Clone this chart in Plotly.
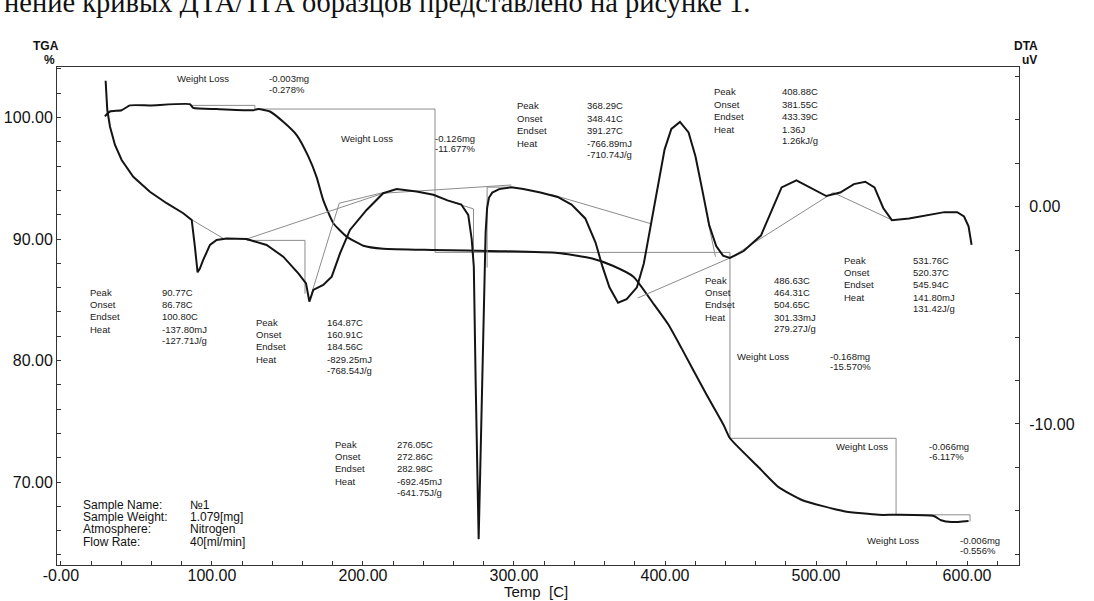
import plotly.graph_objects as go

# ---------------- data ----------------
tga_temp = [29.1, 32.5, 40.2, 45.7, 59, 85.4, 87.6, 103, 127.4, 130.7, 138.4, 147.2, 156.1,
            163.8, 169.3, 173.7, 180.4, 189.2, 200.2, 213.4, 246.6, 290.7, 329, 351.8, 365.4,
            379.1, 392.8, 402, 411, 427, 438.8, 443, 461.3, 475, 491, 518.5, 541.5, 553, 578,
            582.8, 589.7, 601]
tga_weight = [100.1, 100.5, 100.6, 101.0, 101.0, 101.1, 100.8, 100.7, 100.6, 100.7, 100.5, 99.65,
              98.56, 96.8, 95.1, 93.2, 91.3, 90.2, 89.45, 89.2, 89.1, 89.0, 88.85, 88.4, 87.8,
              86.9, 84.6, 83.0, 81.0, 77.3, 74.7, 73.6, 71.3, 69.6, 68.5, 67.6, 67.3, 67.3, 67.2,
              66.85, 66.7, 66.8]

dta_temp = [29.6, 30.7, 32.5, 35.8, 40.2, 47.9, 58.9, 70, 81, 86.6, 88.7, 90.5, 92.0, 94.2, 98.7,
            103.1, 109.7, 122.9, 136.2, 147.2, 157.2, 162.3, 164.5, 167.1, 173.7, 179.3, 184.8,
            191.4, 202.4, 213.4, 222.3, 235.5, 246.6, 256, 265.1, 269.7, 272, 273.4, 274.6, 275.7,
            276.6, 277.6, 279.0, 280.3, 281.2, 282.2, 283.4, 285.6, 290.2, 298.2, 306.2, 317.5,
            328.9, 338.1, 347.2, 354, 358.6, 363.2, 368.9, 374.6, 381.4, 386, 390.5, 395.1, 399.7,
            404.2, 409.9, 415.6, 420.2, 424.8, 429.3, 433.9, 438.4, 443, 452.1, 463.5, 470.3,
            477.2, 487, 495.4, 506.8, 516, 525.1, 532.6, 538.7, 544.5, 550.2, 561.6, 575.2, 585,
            593.5, 598, 601, 603]
dta_uv = [5.80, 4.45, 3.68, 2.84, 2.15, 1.38, 0.69, 0.16, -0.30, -0.61, -1.84, -3.02, -2.85, -2.45,
          -1.76, -1.53, -1.46, -1.49, -1.76, -2.30, -3.07, -3.53, -4.37, -3.83, -3.60, -3.22, -2.15,
          -1.07, -0.15, 0.62, 0.81, 0.70, 0.55, 0.29, 0.10, -0.38, -1.49, -2.76, -8.0, -12.8,
          -15.3, -12.3, -7.5, -3.5, -1.2, -0.06, 0.41, 0.65, 0.81, 0.89, 0.81, 0.65, 0.45, 0.10,
          -0.54, -1.65, -2.76, -3.71, -4.42, -4.26, -3.71, -2.60, -0.86, 1.04, 2.63, 3.58, 3.90,
          3.42, 2.31, 0.73, -0.86, -1.81, -2.25, -2.36, -2.04, -1.33, -0.22, 0.89, 1.21, 0.89,
          0.49, 0.65, 1.04, 1.15, 0.89, -0.06, -0.62, -0.54, -0.38, -0.25, -0.25, -0.45, -0.9,
          -1.76]

# weight-loss step construction (TGA analysis)
step_temp = [85.4, 128.4, 128.4, 247.7, 247.7, 443, 443, 553, 553, 602, 602]
step_weight = [101.0, 101.0, 100.7, 100.7, 88.9, 88.9, 73.6, 73.6, 67.3, 67.3, 66.75]

# DTA peak construction lines (baselines / tangents)
base_temp = [83.2, 107.5, None, 122.9, 161.6, 161.6, None, 166, 184.3, 213.4, None,
             122.9, 213.4, 298.2, None, 255, 273.2, 273.2, None, 282.2, 282.2, 298.2, None,
             324.4, 390.5, None, 382, 443, 511.4, 549, None, 428, 433.4]
base_uv = [-0.46, -1.46, None, -1.55, -1.55, -4.0, None, -3.99, 0.16, 0.65, None,
           -1.49, 0.62, 1.0, None, 0.3, -0.1, -3.0, None, -2.8, 0.9, 0.9, None,
           0.57, -0.78, None, -4.2, -2.36, 0.65, -0.57, None, -0.5, -2.3]

x_tick_vals = [0, 100, 200, 300, 400, 500, 600]
x_tick_text = ["-0.00", "100.00", "200.00", "300.00", "400.00", "500.00", "600.00"]
tga_tick_vals = [70, 80, 90, 100]
tga_tick_text = ["70.00", "80.00", "90.00", "100.00"]
dta_tick_vals = [-10, 0]
dta_tick_text = ["-10.00", "0.00"]

peak_labels = ["Peak", "Onset", "Endset", "Heat"]
peak_blocks = [
    ["90.77C", "86.78C", "100.80C", "-137.80mJ", "-127.71J/g"],
    ["164.87C", "160.91C", "184.56C", "-829.25mJ", "-768.54J/g"],
    ["276.05C", "272.86C", "282.98C", "-692.45mJ", "-641.75J/g"],
    ["368.29C", "348.41C", "391.27C", "-766.89mJ", "-710.74J/g"],
    ["408.88C", "381.55C", "433.39C", "1.36J", "1.26kJ/g"],
    ["486.63C", "464.31C", "504.65C", "301.33mJ", "279.27J/g"],
    ["531.76C", "520.37C", "545.94C", "141.80mJ", "131.42J/g"],
]
weight_loss_blocks = [
    ["-0.003mg", "-0.278%"],
    ["-0.126mg", "-11.677%"],
    ["-0.168mg", "-15.570%"],
    ["-0.066mg", "-6.117%"],
    ["-0.006mg", "-0.556%"],
]
sample_labels = ["Sample Name:", "Sample Weight:", "Atmosphere:", "Flow Rate:"]
sample_values = ["№1", "1.079[mg]", "Nitrogen", "40[ml/min]"]
header_text = "нение кривых ДТА/ТГА образцов представлено на рисунке 1."

# ---------------- layout geometry ----------------
W, H = 1094, 601
L, R, T, B = 57, 1019, 67, 565


def px(xp, yp):
    return (xp - L) / (R - L), (B - yp) / (B - T)


fig = go.Figure()
thin = dict(color="#8c8c8c", width=1)
fig.add_trace(go.Scatter(x=step_temp, y=step_weight, mode="lines", line=thin,
                         yaxis="y", hoverinfo="skip", showlegend=False))
fig.add_trace(go.Scatter(x=base_temp, y=base_uv, mode="lines", line=thin,
                         yaxis="y2", hoverinfo="skip", showlegend=False, connectgaps=False))
fig.add_trace(go.Scatter(x=tga_temp, y=tga_weight, mode="lines",
                         line=dict(color="#141414", width=2, shape="spline", smoothing=0.5),
                         yaxis="y", showlegend=False))
fig.add_trace(go.Scatter(x=dta_temp, y=dta_uv, mode="lines",
                         line=dict(color="#141414", width=2),
                         yaxis="y2", showlegend=False))

FAM = "Liberation Sans, Arial, sans-serif"
SMALL = dict(family=FAM, size=9.5, color="#1a1a1a")
ann = []


def text(t, xp, yp, font=SMALL, xanchor="left"):
    xx, yy = px(xp, yp)
    ann.append(dict(text=t, x=xx, y=yy, xref="paper", yref="paper", showarrow=False,
                    xanchor=xanchor, yanchor="middle", font=font))


# peak blocks: (label x, value x, first row y)
block_pos = [(88, 160, 292), (254, 325, 322), (333, 395, 444), (514.5, 585, 106),
             (712, 780, 92), (702.5, 771.5, 280), (841.7, 910.5, 260)]
for (lx, vx, y0), vals in zip(block_pos, peak_blocks):
    for i, lab in enumerate(peak_labels):
        text(lab, lx, y0 + i * 12.4)
    for i, v in enumerate(vals):
        text(v, vx, y0 + i * 12.4 if i < 4 else y0 + 3 * 12.4 + 11.5)

wl_pos = [(175, 267, 79), (339, 433, 138), (734.7, 827.8, 356), (834, 926.5, 446), (865, 958, 540)]
for (lx, vx, y0), vals in zip(wl_pos, weight_loss_blocks):
    text("Weight Loss", lx, y0)
    text(vals[0], vx, y0)
    text(vals[1], vx, y0 + 10.5)

BIG = dict(family=FAM, size=12, color="#111")
for i, (lab, v) in enumerate(zip(sample_labels, sample_values)):
    text(lab, 81, 504.6 + i * 12.4, BIG)
    text(v, 187.7, 504.6 + i * 12.4, BIG)

TITLE = dict(family=FAM, size=12, color="#111")
text("<b>TGA</b>", 46, 46, TITLE, "center")
text("<b>%</b>", 49.5, 59.5, TITLE, "center")
text("<b>DTA</b>", 1026, 46, TITLE, "center")
text("<b>uV</b>", 1029, 59.5, TITLE, "center")
text("Temp  [C]", 536, 591.5, dict(family=FAM, size=15, color="#111"), "center")
text(header_text, 2, 2.5, dict(family="Liberation Serif, Times New Roman, serif", size=28.5,
                               color="#111"))

axis_common = dict(showline=True, linecolor="#333", linewidth=1, showgrid=False, zeroline=False,
                   automargin=False, ticks="inside", ticklen=4, tickcolor="#333",
                   tickfont=dict(family=FAM, size=16, color="#111"))

fig.update_layout(
    width=W, height=H,
    margin=dict(l=L, r=W - R, t=T, b=H - B, autoexpand=False),
    paper_bgcolor="white", plot_bgcolor="white",
    showlegend=False,
    annotations=ann,
    xaxis=dict(range=[-2.6, 634.4], tickmode="array", tickvals=x_tick_vals, ticktext=x_tick_text,
               mirror=True, ticklabelstandoff=-4,
               minor=dict(tick0=0, dtick=20, ticks="inside", ticklen=4, tickcolor="#333"),
               **axis_common),
    yaxis=dict(range=[63.17, 104.16], tickmode="array", tickvals=tga_tick_vals,
               ticktext=tga_tick_text,
               minor=dict(tick0=0, dtick=2, ticks="inside", ticklen=4, tickcolor="#333"),
               **axis_common),
    yaxis2=dict(range=[-16.49, 6.43], overlaying="y", side="right", tickmode="array",
                tickvals=dta_tick_vals, ticktext=dta_tick_text, ticklabelstandoff=6,
                minor=dict(tick0=0, dtick=2, ticks="inside", ticklen=4, tickcolor="#333"),
                **axis_common),
)

fig.write_html("out.html", config={"displayModeBar": False},
               post_script="document.body.style.margin='0px';")
